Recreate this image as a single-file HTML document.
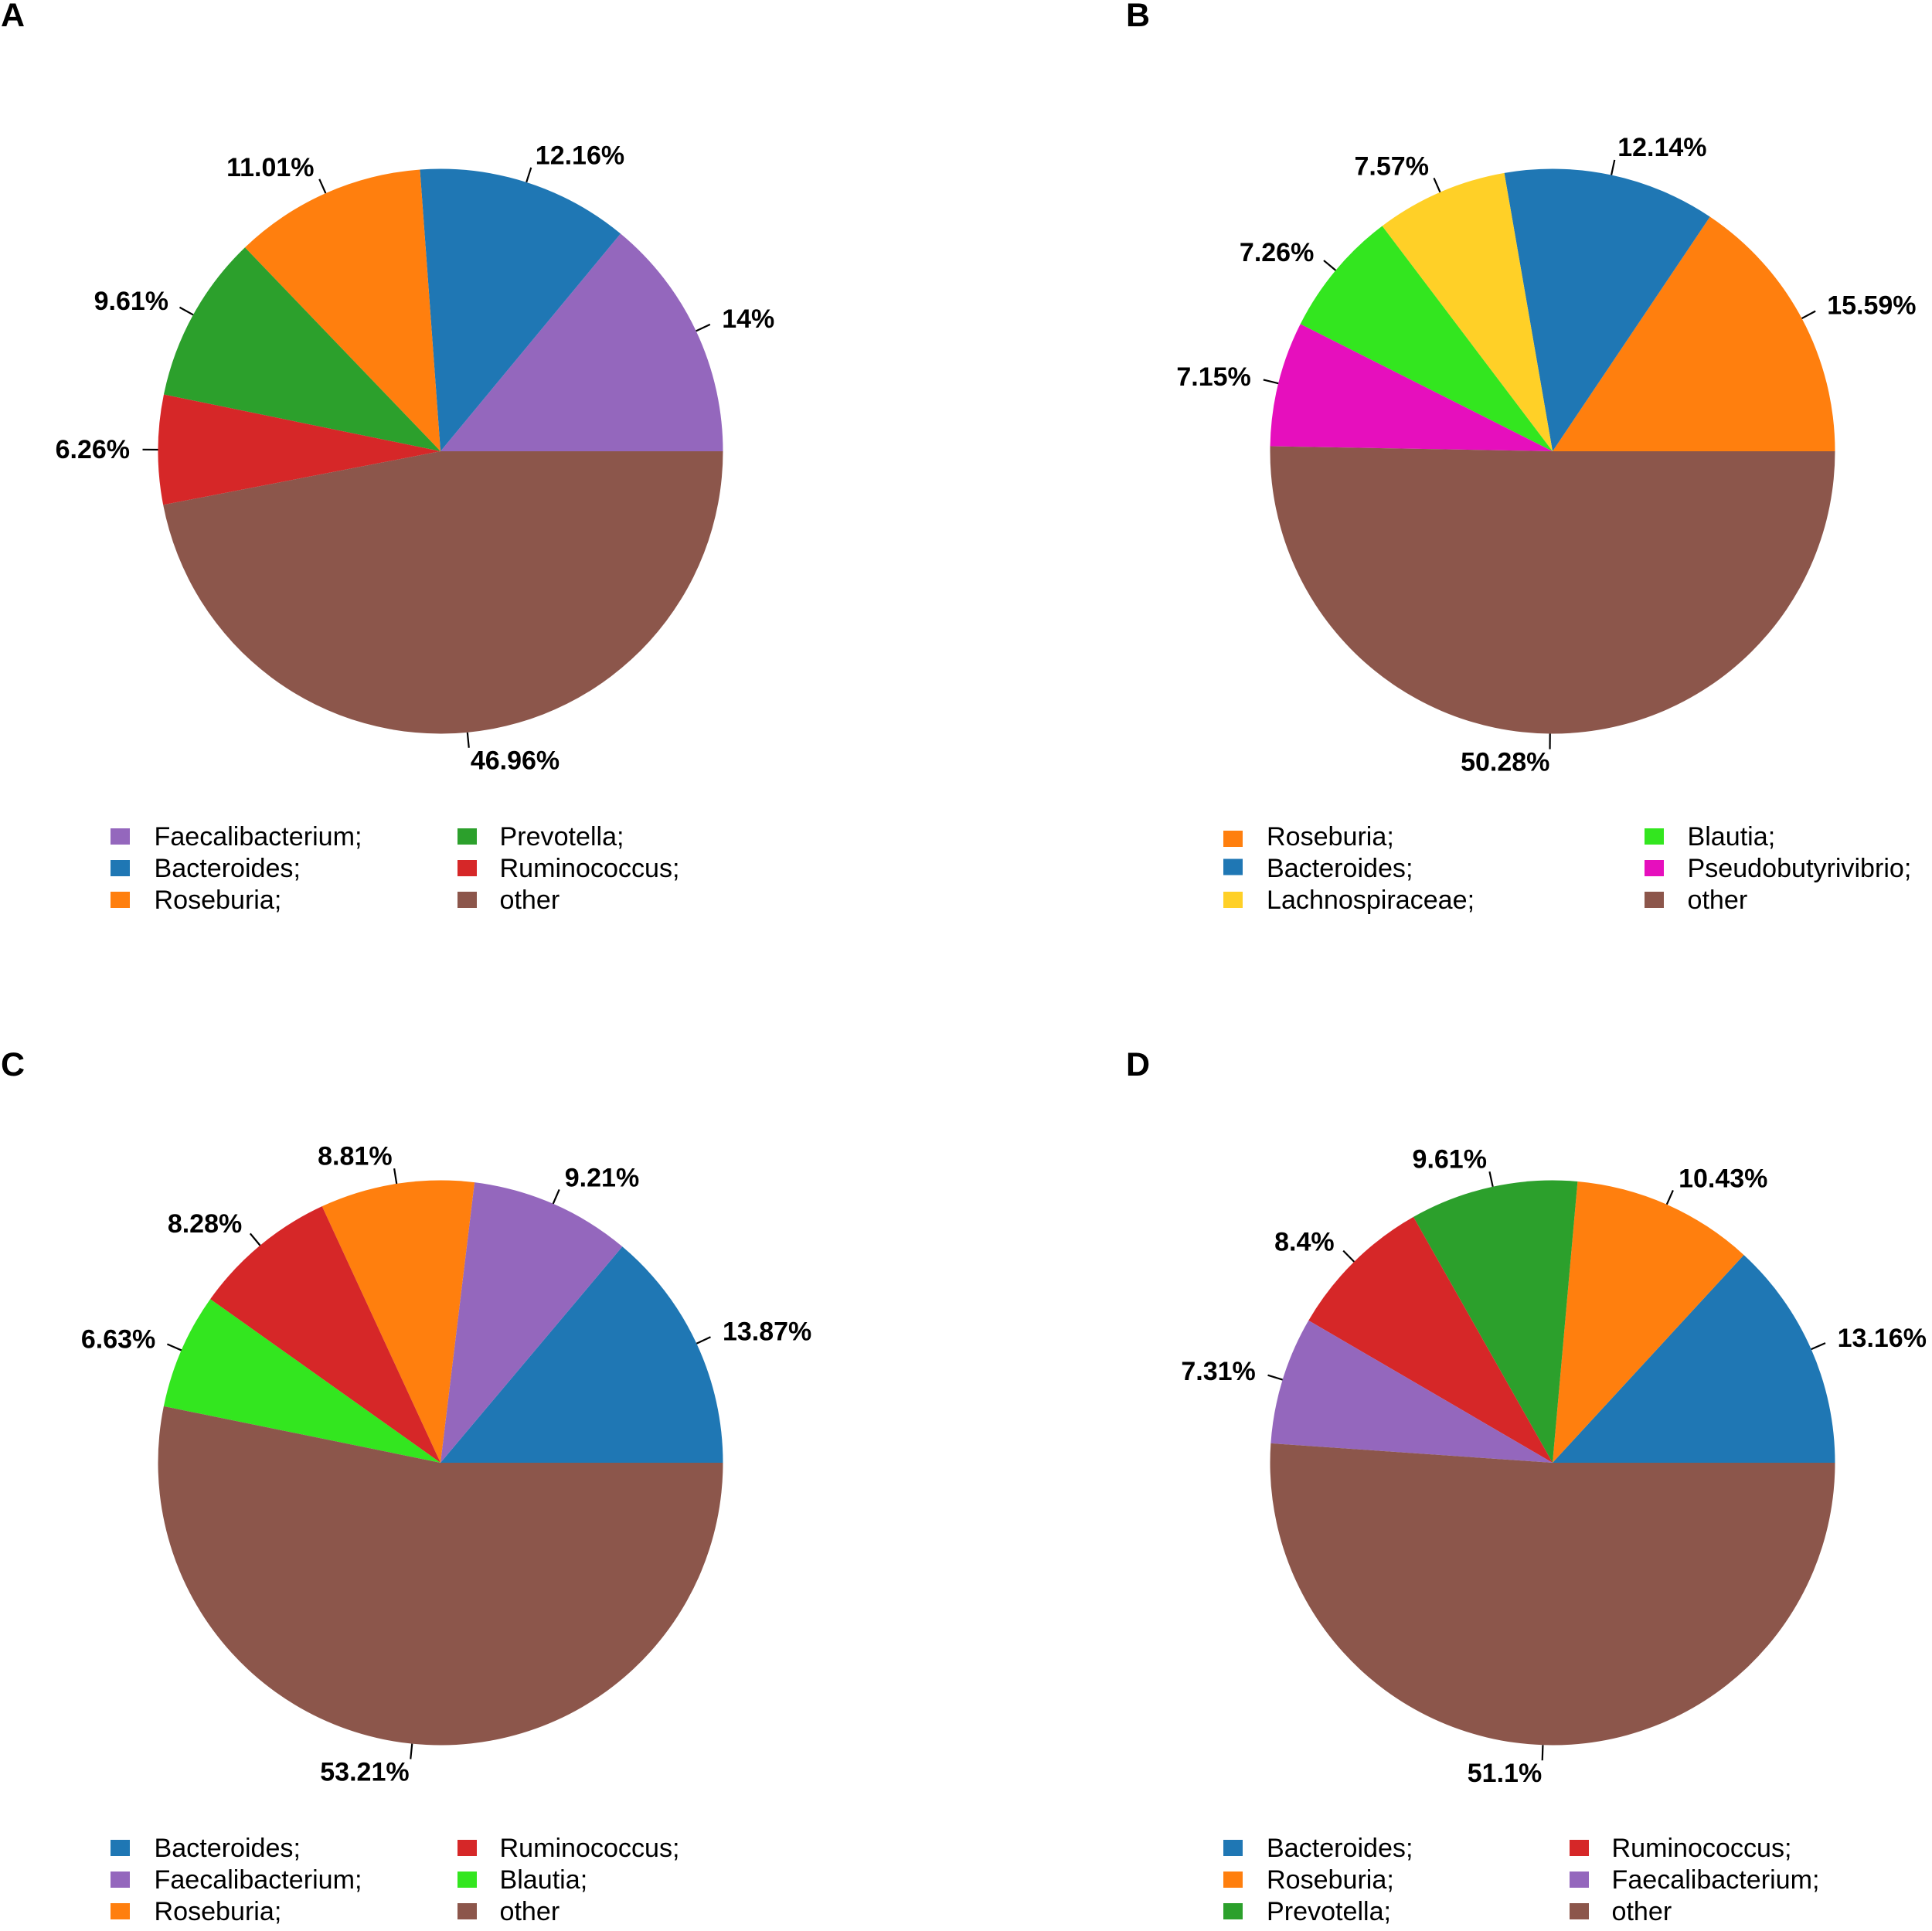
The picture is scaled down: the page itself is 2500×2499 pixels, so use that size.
<!DOCTYPE html>
<html lang="en">
<head>
<meta charset="utf-8">
<title>Genus composition pie charts</title>
<style>
html,body{margin:0;padding:0;background:#fff}
svg{display:block}
text{font-family:"Liberation Sans",Arial,sans-serif;fill:#000}
</style>
</head>
<body>
<svg id="figure" xmlns="http://www.w3.org/2000/svg" width="2500" height="2499" viewBox="0 0 2500 2499">
<rect width="2500" height="2499" fill="#ffffff"/>
</svg>
<script>
const panelACategories = ["Faecalibacterium;", "Bacteroides;", "Roseburia;", "Prevotella;", "Ruminococcus;", "other"];
const panelAValues = [14, 12.16, 11.01, 9.61, 6.26, 46.96];
const panelBCategories = ["Roseburia;", "Bacteroides;", "Lachnospiraceae;", "Blautia;", "Pseudobutyrivibrio;", "other"];
const panelBValues = [15.59, 12.14, 7.57, 7.26, 7.15, 50.28];
const panelCCategories = ["Bacteroides;", "Faecalibacterium;", "Roseburia;", "Ruminococcus;", "Blautia;", "other"];
const panelCValues = [13.87, 9.21, 8.81, 8.28, 6.63, 53.21];
const panelDCategories = ["Bacteroides;", "Roseburia;", "Prevotella;", "Ruminococcus;", "Faecalibacterium;", "other"];
const panelDValues = [13.16, 10.43, 9.61, 8.4, 7.31, 51.1];

const genusColors = {
  "Faecalibacterium;": "#9467bd",
  "Bacteroides;": "#1f77b4",
  "Roseburia;": "#ff7f0e",
  "Prevotella;": "#2ca02c",
  "Ruminococcus;": "#d62728",
  "Blautia;": "#33e61f",
  "Lachnospiraceae;": "#ffd027",
  "Pseudobutyrivibrio;": "#e60fbd",
  "other": "#8c564b"
};

const NS = "http://www.w3.org/2000/svg";
const svg = document.getElementById("figure");
const RADIUS = 365.5;
const TICK_RADIUS = RADIUS + 20;
const LABEL_RADIUS = 402;
const VALUE_FONT = 34;
const LEGEND_FONT = 34.1;

function make(tag, parent, attrs) {
  const el = document.createElementNS(NS, tag);
  for (const k in attrs) el.setAttribute(k, attrs[k]);
  parent.appendChild(el);
  return el;
}
function slug(s) {
  return s.replace(/;/g, "").toLowerCase();
}
function polar(cx, cy, r, angle) {
  return [cx + r * Math.cos(angle), cy - r * Math.sin(angle)];
}

function drawPanel(letter, letterX, letterBaseline, cx, cy, categories, values, legendLayout) {
  const group = make("g", svg, {});
  
  

  const title = make("text", group, {x: letterX, y: letterBaseline, "font-size": 43, "font-weight": "bold"});
  
  
  title.textContent = letter;

  const total = values.reduce((a, b) => a + b, 0);
  let cumulative = 0;
  values.forEach((v, i) => {
    const a0 = cumulative / total * 2 * Math.PI;
    cumulative += v;
    const a1 = cumulative / total * 2 * Math.PI;
    const mid = (a0 + a1) / 2;
    const p0 = polar(cx, cy, RADIUS, a0);
    const p1 = polar(cx, cy, RADIUS, a1);
    const large = (a1 - a0) > Math.PI ? 1 : 0;
    const name = slug(categories[i]);

    const slice = make("path", group, {
      d: `M${cx} ${cy}L${p0[0]} ${p0[1]}A${RADIUS} ${RADIUS} 0 ${large} 0 ${p1[0]} ${p1[1]}Z`,
      fill: genusColors[categories[i]]
    });
    
    

    const t0 = polar(cx, cy, RADIUS, mid);
    const t1 = polar(cx, cy, TICK_RADIUS, mid);
    const tick = make("line", group, {x1: t0[0], y1: t0[1], x2: t1[0], y2: t1[1], stroke: "#000", "stroke-width": 2.2});
    
    

    const lp = polar(cx, cy, LABEL_RADIUS, mid);
    const rightSide = Math.cos(mid) >= 0;
    const label = make("text", group, {
      x: lp[0] + (rightSide ? 0.5 : 0),
      y: lp[1] + 11.4,
      "font-size": VALUE_FONT,
      "font-weight": "bold",
      "text-anchor": rightSide ? "start" : "end"
    });
    
    
    label.textContent = String(v) + "%";
  });

  categories.forEach((c, i) => {
    const col = i < 3 ? 0 : 1;
    const row = i % 3;
    const rowCenter = legendLayout.rowY + row * 41;
    const entry = make("g", group, {});
    
    

    const shift = (col === 0 && legendLayout.firstColumnShift) ? legendLayout.firstColumnShift[row] : 0;
    const sw = make("rect", entry, {
      x: legendLayout.swatchX[col],
      y: rowCenter - 10.5 + shift,
      width: 25,
      height: 21,
      fill: genusColors[c]
    });
    
    

    const tx = make("text", entry, {
      x: legendLayout.textX[col],
      y: rowCenter + 11.5,
      "font-size": LEGEND_FONT
    });
    
    
    tx.textContent = c;
  });
}

drawPanel("A", 1, 34, 570, 584, panelACategories, panelAValues,
  {rowY: 1082.5, swatchX: [143, 592], textX: [199.5, 646.5]});
drawPanel("B", 1457, 34, 2009, 584, panelBCategories, panelBValues,
  {rowY: 1082.5, swatchX: [1583, 2128], textX: [1639, 2183.5], firstColumnShift: [3, -1.5, 0]});
drawPanel("C", 1, 1392, 570, 1893, panelCCategories, panelCValues,
  {rowY: 2391.5, swatchX: [143, 592], textX: [199.5, 646.5]});
drawPanel("D", 1457, 1392, 2009, 1893, panelDCategories, panelDValues,
  {rowY: 2391.5, swatchX: [1583, 2031], textX: [1639, 2085.5]});
</script>
</body>
</html>
